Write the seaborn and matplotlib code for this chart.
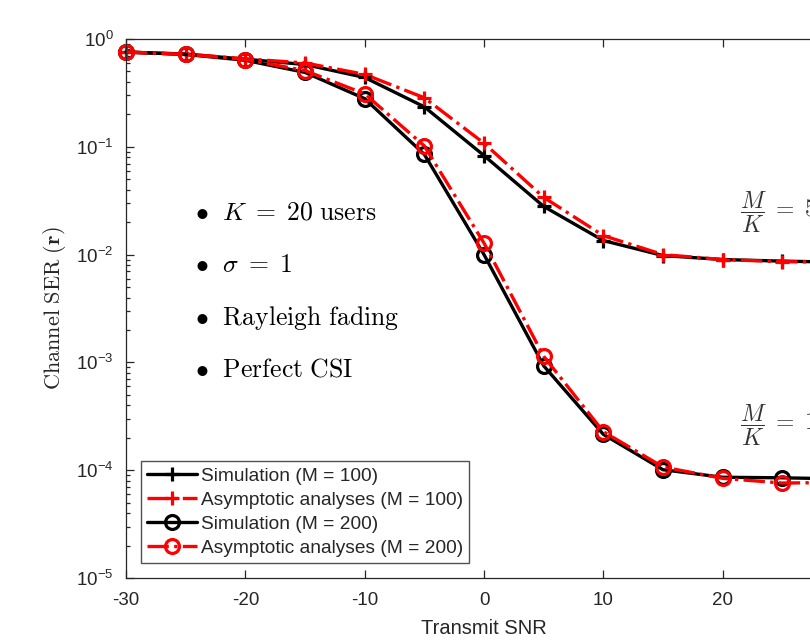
import numpy as np
import pandas as pd
import matplotlib
matplotlib.use("Agg")
import matplotlib.pyplot as plt
import seaborn as sns
from matplotlib.ticker import LogLocator, FixedLocator

# ---- data -------------------------------------------------------------
snr_db = [-30, -25, -20, -15, -10, -5, 0, 5, 10, 15, 20, 25, 30]

sim_m100 = [0.757, 0.725, 0.65, 0.58, 0.44, 0.235, 0.083, 0.028, 0.0135, 0.0098, 0.0090, 0.0087, 0.0085]
asy_m100 = [0.757, 0.725, 0.655, 0.60, 0.47, 0.285, 0.108, 0.034, 0.0150, 0.0100, 0.0090, 0.0086, 0.0085]
sim_m200 = [0.757, 0.72, 0.635, 0.49, 0.28, 0.085, 0.0100, 0.00093, 0.000215, 0.000101, 8.6e-5, 8.5e-5, 8.3e-5]
asy_m200 = [0.757, 0.72, 0.645, 0.51, 0.31, 0.102, 0.0128, 0.00114, 0.000228, 0.000107, 8.4e-5, 7.6e-5, 7.7e-5]

series_labels = ["Simulation (M = 100)", "Asymptotic analyses (M = 100)",
                 "Simulation (M = 200)", "Asymptotic analyses (M = 200)"]
x_ticks = [-30, -20, -10, 0, 10, 20, 30]
bullet_lines = [r"$\bullet\ \ K\;=\;20\ \mathrm{users}$",
                r"$\bullet\ \ \sigma\;=\;1$",
                r"$\bullet\ \ \mathrm{Rayleigh\ fading}$",
                r"$\bullet\ \ \mathrm{Perfect\ CSI}$"]
ratio_labels = [r"$\dfrac{M}{K}\;=\;5$", r"$\dfrac{M}{K}\;=\;10$"]

# ---- style ------------------------------------------------------------
sns.set_style("ticks")
plt.rcParams["font.family"] = ["Liberation Sans", "DejaVu Sans"]
plt.rcParams["axes.unicode_minus"] = False
plt.rcParams["mathtext.fontset"] = "custom"
plt.rcParams["mathtext.rm"] = "Liberation Sans"
plt.rcParams["mathtext.it"] = "Liberation Sans:italic"
plt.rcParams["mathtext.bf"] = "Liberation Sans:bold"

ink = "#262626"
fig = plt.figure(figsize=(8.10, 6.41), dpi=100)
ax = fig.add_axes([0.1556, 0.0983, 0.8839, 0.8408])

styles = [
    dict(color="black", linestyle="-", marker="+"),
    dict(color="red", linestyle="-.", marker="+"),
    dict(color="black", linestyle="-", marker="o"),
    dict(color="red", linestyle="-.", marker="o"),
]
for values, label, st in zip([sim_m100, asy_m100, sim_m200, asy_m200], series_labels, styles):
    sns.lineplot(x=snr_db, y=values, ax=ax, label=label, linewidth=2.4,
                 markersize=10, markeredgewidth=2.3, markerfacecolor="none",
                 markeredgecolor=st["color"], clip_on=False, **st)

ax.set_yscale("log")
ax.set_xlim(-30, 30)
ax.set_ylim(1e-5, 1)
ax.xaxis.set_major_locator(FixedLocator(x_ticks))
ax.yaxis.set_major_locator(LogLocator(base=10, numticks=10))
ax.yaxis.set_minor_locator(LogLocator(base=10, subs=np.arange(2, 10), numticks=20))

ax.tick_params(which="both", direction="in", top=True, right=True, colors=ink,
               labelsize=13.5, width=0.9)
ax.tick_params(which="major", length=6)
ax.tick_params(which="minor", length=3)
ax.tick_params(axis="x", which="major", pad=10)
ax.tick_params(axis="y", which="major", pad=9)
for sp in ax.spines.values():
    sp.set_color(ink)
    sp.set_linewidth(0.9)

ax.set_xlabel("Transmit SNR", fontsize=14.5, color=ink, labelpad=7)
ax.set_ylabel(r"$\mathrm{Channel\ SER\ (}\mathbf{r}\mathrm{)}$", fontsize=16,
              color=ink, math_fontfamily="cm", labelpad=6)

# ---- annotations ------------------------------------------------------
for ty, txt in zip([0.679, 0.581, 0.482, 0.386], bullet_lines):
    ax.text(0.0964, ty, txt, transform=ax.transAxes, fontsize=18.5,
            ha="left", va="center", color="black", math_fontfamily="cm")
for ty, txt in zip([0.679, 0.284], ratio_labels):
    ax.text(0.858, ty, txt, transform=ax.transAxes, fontsize=17,
            ha="left", va="center", color="#333333", math_fontfamily="cm")

leg = ax.legend(loc="lower left", fontsize=13.8, frameon=True, fancybox=False,
                handlelength=2.6, labelspacing=0.35, borderpad=0.3,
                handletextpad=0.2, borderaxespad=0.8)
leg.get_frame().set_edgecolor(ink)
leg.get_frame().set_linewidth(1.0)

fig.savefig("out.png", dpi=100)
